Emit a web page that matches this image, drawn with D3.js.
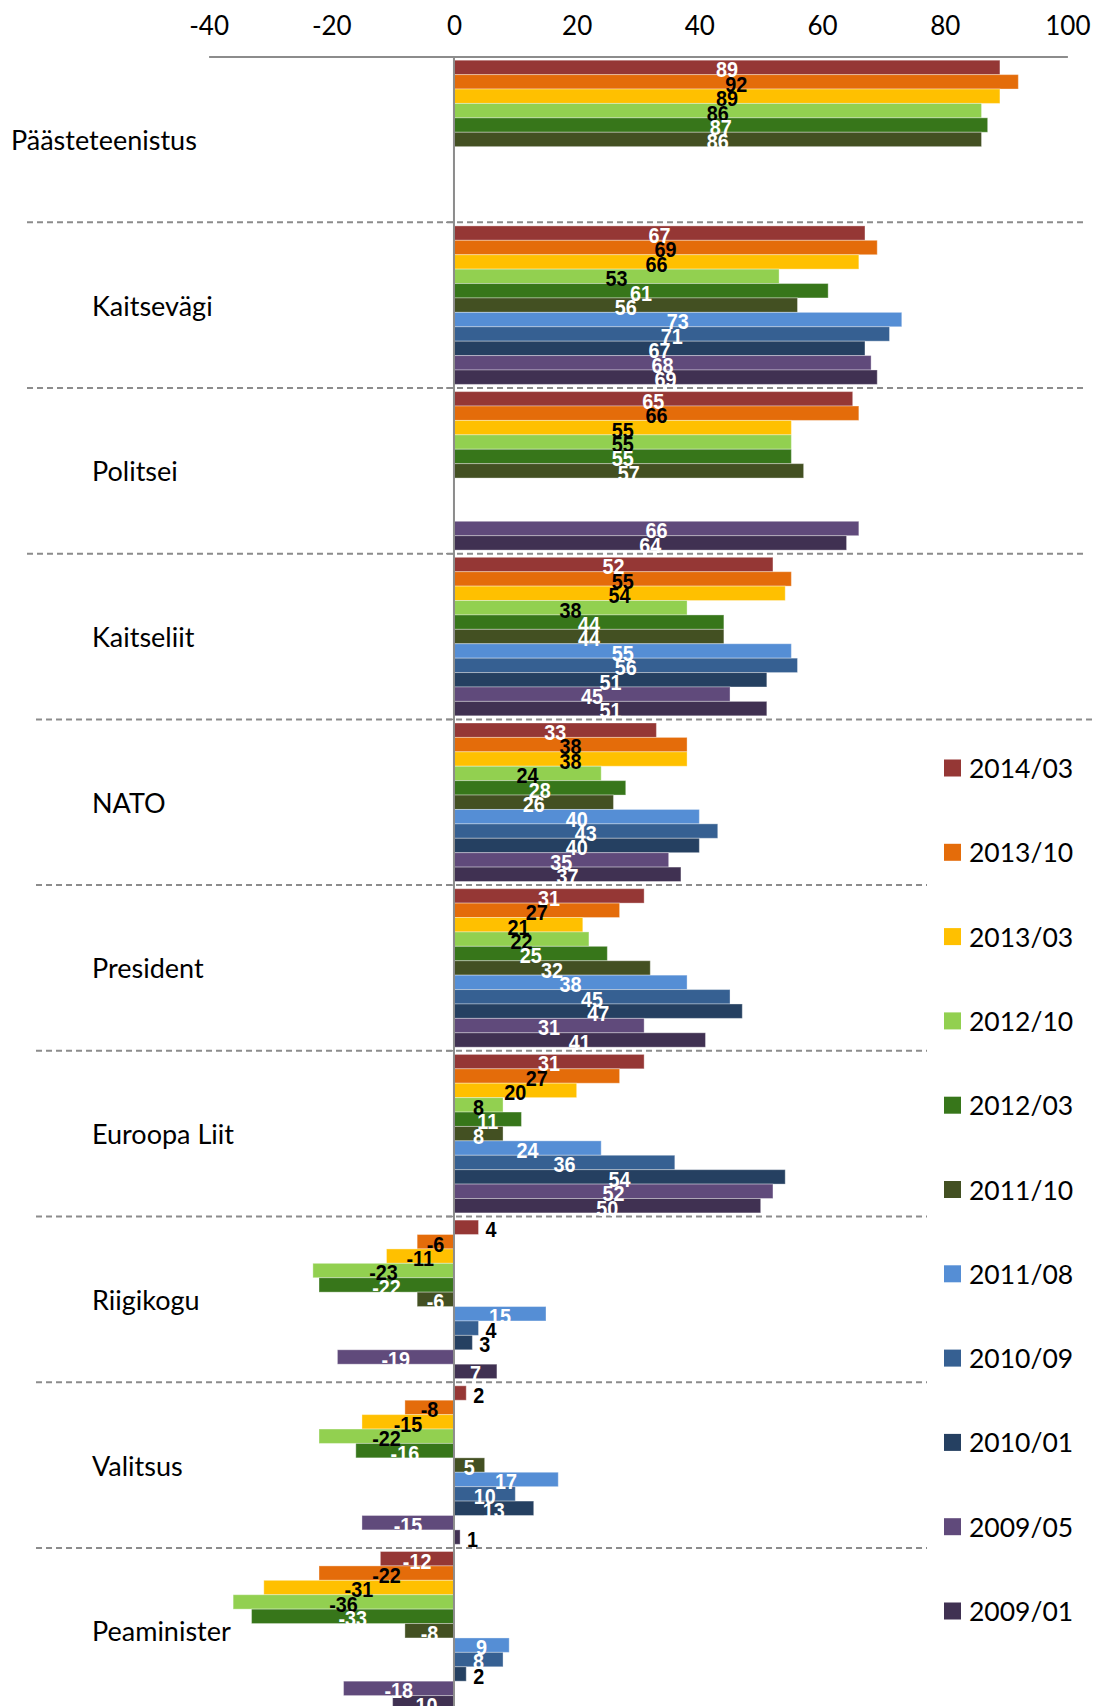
<!DOCTYPE html>
<meta charset="utf-8">
<style>
body { margin: 0; background: #fff; }
svg { display: block; }
.cat { font-family: Lato, sans-serif; font-size: 27px; fill: #000; }
.axis text { font-family: Lato, sans-serif; font-size: 26px; fill: #000; }
.lbl { font-family: "Liberation Sans", Arial, sans-serif; font-weight: bold; font-size: 22px; }
.leg { font-family: Lato, sans-serif; font-size: 26.5px; fill: #000; }
</style>
<svg width="1103" height="1706"></svg>
<script src="https://d3js.org/d3.v7.min.js"></script>
<script>

var categories = ["Päästeteenistus", "Kaitsevägi", "Politsei", "Kaitseliit", "NATO",
  "President", "Euroopa Liit", "Riigikogu", "Valitsus", "Peaminister"];

var series = ["2014/03", "2013/10", "2013/03", "2012/10", "2012/03", "2011/10",
  "2011/08", "2010/09", "2010/01", "2009/05", "2009/01"];

var colors = ["#953735", "#e46c0a", "#ffc000", "#92d050", "#37761a", "#435022",
  "#558ed5", "#366092", "#254061", "#604a7b", "#403152"];

var labelColors = ["#fff", "#000", "#000", "#000", "#fff", "#fff",
  "#fff", "#fff", "#fff", "#fff", "#fff"];

// one row per category, in series order (null = no survey)
var values = [
  [89, 92, 89, 86, 87, 86, null, null, null, null, null],
  [67, 69, 66, 53, 61, 56, 73, 71, 67, 68, 69],
  [65, 66, 55, 55, 55, 57, null, null, null, 66, 64],
  [52, 55, 54, 38, 44, 44, 55, 56, 51, 45, 51],
  [33, 38, 38, 24, 28, 26, 40, 43, 40, 35, 37],
  [31, 27, 21, 22, 25, 32, 38, 45, 47, 31, 41],
  [31, 27, 20, 8, 11, 8, 24, 36, 54, 52, 50],
  [4, -6, -11, -23, -22, -6, 15, 4, 3, -19, 7],
  [2, -8, -15, -22, -16, 5, 17, 10, 13, -15, 1],
  [-12, -22, -31, -36, -33, -8, 9, 8, 2, -18, -10]
];

var tickValues = [-40, -20, 0, 20, 40, 60, 80, 100];

var svg = d3.select("svg");
var top0 = 56.6, bandH = 165.7;

var x = d3.scaleLinear().domain([-40, 100]).range([208.6, 1067.4]);
var y = d3.scaleBand().domain(categories).range([top0, top0 + bandH * categories.length]);
var ySub = d3.scaleBand().domain(series).range([0, y.bandwidth()])
  .paddingInner(0).paddingOuter(0.25);

var rows = [];
values.forEach(function(row, i) {
  row.forEach(function(v, j) {
    if (v !== null) rows.push({cat: categories[i], s: j, v: v});
  });
});

// separators
d3.range(1, categories.length).forEach(function(i) {
  var yy = top0 + i * bandH;
  var x1 = i <= 3 ? 27 : 36;
  var x2 = i <= 3 ? 1086 : (i == 4 ? 1095 : 927);
  svg.append("line")
    .attr("x1", x1).attr("x2", x2).attr("y1", yy).attr("y2", yy)
    .attr("stroke", "#8c8c8c").attr("stroke-width", 2)
    .attr("stroke-dasharray", "6,4");
  svg.append("line")
    .attr("x1", x(0) - 8).attr("x2", x(0)).attr("y1", yy).attr("y2", yy)
    .attr("stroke", "#8c8c8c").attr("stroke-width", 1.5);
});

// bars
svg.append("g").selectAll("rect")
  .data(rows)
  .enter().append("rect")
  .attr("x", function(d) { return x(Math.min(0, d.v)); })
  .attr("width", function(d) { return Math.abs(x(d.v) - x(0)); })
  .attr("y", function(d) { return y(d.cat) + ySub(series[d.s]); })
  .attr("height", ySub.bandwidth())
  .attr("fill", function(d) { return colors[d.s]; })
  .attr("stroke", "#fff").attr("stroke-opacity", 0.35).attr("stroke-width", 1);

// axes lines
var axis = svg.append("g").attr("class", "axis")
  .attr("transform", "translate(0," + top0 + ")")
  .call(d3.axisTop(x).tickValues(tickValues).tickSize(0).tickPadding(22)
    .tickFormat(function(d) { return String(d); }));
axis.select(".domain").attr("stroke", "#8c8c8c").attr("stroke-width", 2);

svg.append("line")
  .attr("x1", x(0)).attr("x2", x(0))
  .attr("y1", top0).attr("y2", 1706)
  .attr("stroke", "#8c8c8c").attr("stroke-width", 2);

// data labels
svg.append("g").selectAll("text")
  .data(rows)
  .enter().append("text")
  .attr("class", "lbl")
  .attr("transform", function(d) {
    var small = Math.abs(d.v) < 5;
    var xx = small ? x(d.v) + 7 : (x(0) + x(d.v)) / 2;
    var yy = y(d.cat) + ySub(series[d.s]) + ySub.bandwidth() / 2 + 2;
    return "translate(" + xx + "," + yy + ") scale(0.9,1)";
  })
  .attr("text-anchor", function(d) { return Math.abs(d.v) < 5 ? "start" : "middle"; })
  .attr("dominant-baseline", "central")
  .attr("fill", function(d) { return Math.abs(d.v) < 5 ? "#000" : labelColors[d.s]; })
  .text(function(d) { return d.v; });

// category labels
svg.append("g").selectAll("text")
  .data(categories)
  .enter().append("text")
  .attr("class", "cat")
  .attr("x", function(d, i) { return i == 0 ? 11 : 92; })
  .attr("y", function(d) { return y(d) + y.bandwidth() / 2; })
  .attr("dominant-baseline", "central")
  .text(function(d) { return d; });

// legend
var ly = d3.scalePoint().domain(series).range([768, 1611]);
var leg = svg.append("g").selectAll("g")
  .data(series)
  .enter().append("g")
  .attr("transform", function(d) { return "translate(944," + ly(d) + ")"; });
leg.append("rect")
  .attr("x", 0).attr("y", -8.5).attr("width", 17).attr("height", 17)
  .attr("fill", function(d, i) { return colors[i]; });
leg.append("text")
  .attr("class", "leg")
  .attr("x", 25).attr("y", 0)
  .attr("dominant-baseline", "central")
  .text(function(d) { return d; });

</script>
